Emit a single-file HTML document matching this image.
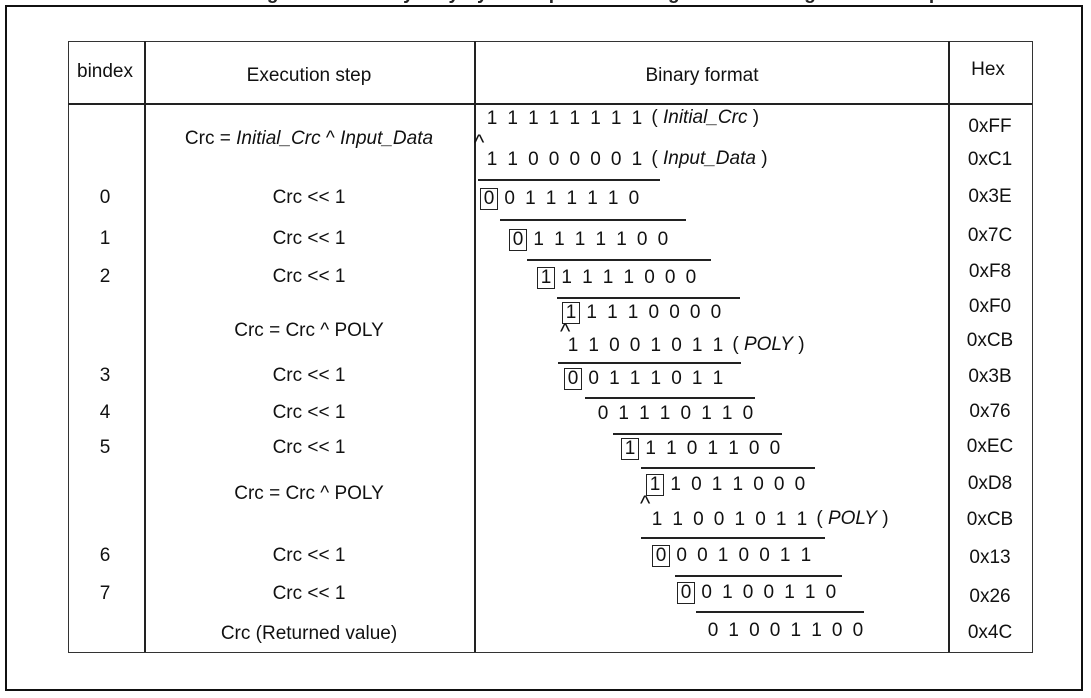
<!DOCTYPE html>
<html><head><meta charset="utf-8">
<style>
html,body{margin:0;padding:0;background:#fff;}
#root{position:relative;width:1091px;height:698px;overflow:hidden;background:#fff;font-family:"Liberation Sans",sans-serif;color:#111;}
.abs{position:absolute;}
.t{position:absolute;font-size:19px;white-space:nowrap;transform:translate(-50%,-50%);}
.d{position:absolute;font-size:19px;transform:translate(-50%,-50%);}
.ln{position:absolute;background:#222;}
.box{position:absolute;border:1.5px solid #222;box-sizing:border-box;}
i{font-style:italic;}
</style></head>
<body>
<div id="root">
  <div class="abs" style="left:250px;top:-17px;font-size:19px;font-weight:bold;color:#222;">Figure 1. CRC8 byte-by-byte computation using the bitwise algorithm example</div>
  <div class="abs" style="left:5px;top:5px;width:1074px;height:682px;border:2.5px solid #111;"></div>
  <div class="abs" style="left:68px;top:41px;width:963px;height:610px;border:1.5px solid #333;"></div>
  <div class="ln" style="left:68px;top:103px;width:964px;height:1.5px;"></div>
  <div class="ln" style="left:144px;top:41px;width:1.5px;height:611px;"></div>
  <div class="ln" style="left:474px;top:41px;width:1.5px;height:611px;"></div>
  <div class="ln" style="left:948px;top:41px;width:1.5px;height:611px;"></div>
  <div class="t" style="left:105px;top:72px;">bindex</div>
  <div class="t" style="left:309px;top:76px;">Execution step</div>
  <div class="t" style="left:702px;top:76px;">Binary format</div>
  <div class="t" style="left:988px;top:70px;">Hex</div>
</div>
<script>
const root = document.getElementById('root');
const steps = [
 ['', 'Crc = <i>Initial_Crc</i> ^ <i>Input_Data</i>', 139],
 ['0','Crc &lt;&lt; 1',198],['1','Crc &lt;&lt; 1',239],['2','Crc &lt;&lt; 1',277],
 ['', 'Crc = Crc ^ POLY',331],
 ['3','Crc &lt;&lt; 1',376],['4','Crc &lt;&lt; 1',413],['5','Crc &lt;&lt; 1',448],
 ['', 'Crc = Crc ^ POLY',494],
 ['6','Crc &lt;&lt; 1',556],['7','Crc &lt;&lt; 1',594],
 ['', 'Crc (Returned value)',634]
];
const hexVals = ['0xFF','0xC1','0x3E','0x7C','0xF8','0xF0','0xCB','0x3B','0x76','0xEC','0xD8','0xCB','0x13','0x26','0x4C'];
const hexY = [127,160,197,236,272,307,341,377,412,447,484,520,558,597,633];
const bins = [
 ['11111111',492,119,false,'( <i>Initial_Crc</i> )'],
 ['11000001',492,160,false,'( <i>Input_Data</i> )'],
 ['00111110',489,199,true,''],
 ['01111100',518,240,true,''],
 ['11111000',546,278,true,''],
 ['11110000',571,313,true,''],
 ['11001011',573,346,false,'( <i>POLY</i> )'],
 ['00111011',573,379,true,''],
 ['01110110',603,414,false,''],
 ['11101100',630,449,true,''],
 ['11011000',655,485,true,''],
 ['11001011',657,520,false,'( <i>POLY</i> )'],
 ['00010011',661,556,true,''],
 ['00100110',686,593,true,''],
 ['01001100',713,631,false,'']
];
const rules = [[478,179,182],[500,219,186],[527,259,184],[557,297,183],[558,362,183],[585,397,170],[613,433,169],[641,467,174],[641,537,184],[675,575,167],[696,611,168]];
const carets = [[480,138],[566,327],[646,499]];
const SP = 20.7;
steps.forEach(s => {
  if (s[0] !== '') {
    const b = document.createElement('div');
    b.className = 't'; b.style.left = '105px'; b.style.top = s[2] + 'px'; b.textContent = s[0];
    
    
    root.appendChild(b);
  }
  const e = document.createElement('div');
  e.className = 't'; e.style.left = '309px'; e.style.top = s[2] + 'px'; e.innerHTML = s[1];
  
  
  root.appendChild(e);
});
hexVals.forEach((h, i) => {
  const e = document.createElement('div');
  e.className = 't'; e.style.left = '990px'; e.style.top = hexY[i] + 'px'; e.textContent = h;
  
  
  root.appendChild(e);
});
bins.forEach(r => {
  for (let i = 0; i < 8; i++) {
    const d = document.createElement('div');
    d.className = 'd'; d.style.left = (r[1] + i * SP) + 'px'; d.style.top = r[2] + 'px'; d.textContent = r[0][i];
    
    
    root.appendChild(d);
  }
  if (r[3]) {
    const bx = document.createElement('div');
    bx.className = 'box'; bx.style.left = (r[1] - 9) + 'px'; bx.style.top = (r[2] - 11) + 'px';
    bx.style.width = '18px'; bx.style.height = '22px';
    
    
    root.appendChild(bx);
  }
  if (r[4]) {
    const s = document.createElement('div');
    s.className = 'abs'; s.style.fontSize = '19px'; s.style.whiteSpace = 'nowrap';
    s.style.left = (r[1] + 7.7 * SP) + 'px'; s.style.top = (r[2] - 12) + 'px'; s.innerHTML = r[4];
    
    
    root.appendChild(s);
  }
});
carets.forEach(c => {
  const k = document.createElement('div');
  k.className = 'abs'; k.style.left = (c[0] - 6) + 'px'; k.style.top = (c[1] - 6) + 'px';
  k.style.fontSize = '22px'; k.style.lineHeight = '1'; k.textContent = '^';
  
  
  root.appendChild(k);
});
rules.forEach(u => {
  const l = document.createElement('div');
  l.className = 'ln'; l.style.left = u[0] + 'px'; l.style.top = u[1] + 'px'; l.style.width = u[2] + 'px'; l.style.height = '1.5px';
  
  
  root.appendChild(l);
});
</script>
</body></html>
